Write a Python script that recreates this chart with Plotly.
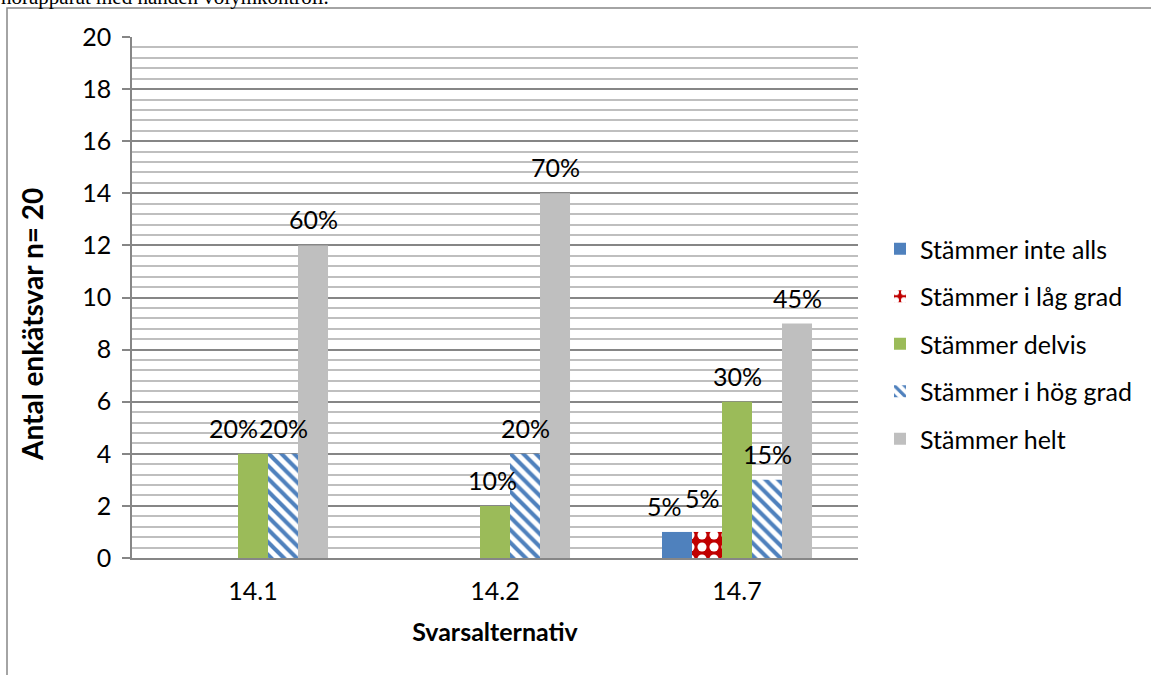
import plotly.graph_objects as go

categories = ["14.1", "14.2", "14.7"]
series_names = ["Stämmer inte alls", "Stämmer i låg grad", "Stämmer delvis",
                "Stämmer i hög grad", "Stämmer helt"]
inte_alls = [0, 0, 1]
lag_grad = [0, 0, 1]
delvis = [4, 2, 6]
hog_grad = [4, 4, 3]
helt = [12, 14, 9]
n_total = 20
y_ticks = [0, 2, 4, 6, 8, 10, 12, 14, 16, 18, 20]

series_values = [inte_alls, lag_grad, delvis, hog_grad, helt]

FONT = "Lato"
FS = 25
W, H = 1151, 675
L, R, T, B = 132, 858, 37, 558  # plot area in px


def px_x(px):
    return (px - L) / (R - L)


def px_y(py):
    return (B - py) / (B - T)


styles = [
    dict(color="#4F81BD"),
    dict(color="#C00000", pattern=dict(shape=".", fgcolor="white", bgcolor="#C00000",
                                       size=12, solidity=0.45, fillmode="replace")),
    dict(color="#9BBB59"),
    dict(color="white", pattern=dict(shape="\\", fgcolor="#4F81BD", bgcolor="white",
                                     size=9, solidity=0.45, fillmode="replace")),
    dict(color="#BFBFBF"),
]

fig = go.Figure()
for i, (name, vals) in enumerate(zip(series_names, series_values)):
    fig.add_trace(go.Bar(
        x=categories, y=vals, name=name, marker=dict(line=dict(width=0), **styles[i]),
        legendgroup=f"g{i}", hoverinfo="skip",
    ))

# percentage labels (label nudges mimic the manually moved labels of the original)
bar_px = 30
nudges = {(2, 0): (-20, 0), (0, 2): (-13, 0), (1, 2): (-5, 8), (2, 1): (-3, 0)}
for i, vals in enumerate(series_values):
    for ci, v in enumerate(vals):
        if v == 0:
            continue
        dx, dy = nudges.get((i, ci), (0, 0))
        fig.add_annotation(
            x=ci, y=v, xref="x", yref="y", text=f"{v / n_total * 100:.0f}%",
            showarrow=False, xshift=(i - 2) * bar_px + dx, yshift=26 + dy, yanchor="middle",
            font=dict(family=FONT, size=FS, color="black"),
        )

fig.update_layout(
    width=W, height=H,
    margin=dict(l=L, r=W - R, t=T, b=H - B, pad=0, autoexpand=False),
    paper_bgcolor="white", plot_bgcolor="white",
    barmode="group", bargap=0.38, bargroupgap=0,
    font=dict(family=FONT, size=FS, color="black"),
    showlegend=True,
    legend=dict(x=px_x(880), y=px_y(226), xanchor="left", yanchor="top",
                font=dict(family=FONT, size=FS, color="black"),
                tracegroupgap=12, itemwidth=30, bgcolor="rgba(0,0,0,0)",
                traceorder="grouped"),
    xaxis=dict(
        type="category", automargin=False, range=[-0.5, 2.5],
        showgrid=False, showline=True, linecolor="#868686", linewidth=1.5,
        ticks="", tickfont=dict(family=FONT, size=FS), ticklabelstandoff=10, tickangle=0,
        title=dict(text="<b>Svarsalternativ</b>", font=dict(family=FONT, size=FS), standoff=20),
        fixedrange=True,
    ),
    yaxis=dict(
        automargin=False,
        range=[0, 20], tickvals=y_ticks, showgrid=True, gridcolor="#868686", gridwidth=1.5,
        minor=dict(dtick=0.4, showgrid=True, gridcolor="#BFBFBF", gridwidth=1.5, ticks=""),
        showline=True, linecolor="#868686", linewidth=1.5,
        ticks="outside", ticklen=8, tickcolor="#868686", tickwidth=1.5,
        tickfont=dict(family=FONT, size=FS), ticklabelstandoff=6,
        zeroline=False, fixedrange=True,
    ),
)

# y axis title
fig.add_annotation(
    x=px_x(32), y=px_y(325), xref="paper", yref="paper", text="<b>Antal enkätsvar n= 20</b>",
    textangle=-90, showarrow=False, xanchor="center", yanchor="middle",
    font=dict(family=FONT, size=28, color="black"),
)

# cut-off caption text above the chart frame
fig.add_annotation(
    x=px_x(-1), y=px_y(11), xref="paper", yref="paper",
    text="hörapparat med handen volymkontroll.", showarrow=False,
    xanchor="left", yanchor="bottom",
    font=dict(family="Liberation Serif", size=21, color="black"),
)

# chart frame
fig.add_shape(type="rect", xref="paper", yref="paper",
              x0=px_x(7), x1=px_x(1170), y0=px_y(700), y1=px_y(8),
              line=dict(color="#868686", width=1.5), fillcolor="rgba(0,0,0,0)", layer="below")

fig.write_html("out.html", config={"displayModeBar": False},
               post_script="document.body.style.margin='0';document.body.style.overflow='hidden';")
